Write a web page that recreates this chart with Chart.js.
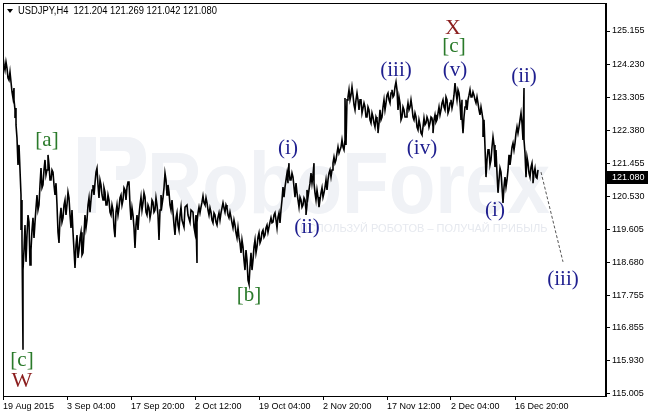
<!DOCTYPE html>
<html>
<head>
<meta charset="utf-8">
<script src="https://cdn.jsdelivr.net/npm/chart.js@4.4.0/dist/chart.umd.min.js"></script>
<style>
  html, body { margin: 0; padding: 0; background: #fff; }
  #wrap { width: 648px; height: 415px; position: relative; }
</style>
</head>
<body>
<div id="wrap"><canvas id="priceChart" width="648" height="415"></canvas></div>
<script>
// USDJPY H4 (bar index = H4 bar from 19 Aug 2015)
const symbolTitle = 'USDJPY,H4  121.204 121.269 121.042 121.080';
const lastClose = 121.080;

const bars = [
  0, 2, 4, 6, 8, 10, 11, 12, 13, 15,
  17, 18, 19, 20, 22, 24, 26, 28, 30, 32,
  34, 36, 38, 40, 42, 44, 46, 48, 50, 52,
  54, 56, 58, 60, 62, 64, 66, 68, 70, 72,
  74, 76, 78, 80, 82, 84, 86, 88, 90, 92,
  94, 96, 98, 100, 102, 104, 106, 108, 110, 112,
  114, 116, 118, 120, 122, 124, 126, 128, 130, 132,
  134, 136, 138, 140, 142, 144, 146, 148, 150, 152,
  154, 156, 158, 160, 162, 164, 166, 168, 170, 172,
  174, 176, 178, 181, 184, 187, 190, 192, 193, 194,
  196, 198, 200, 202, 204, 206, 208, 210, 212, 214,
  216, 218, 220, 222, 224, 226, 228, 230, 232, 234,
  236, 238, 240, 242, 244, 246, 248, 250, 252, 254,
  256, 258, 260, 262, 264, 266, 268, 270, 272, 274,
  276, 278, 280, 282, 284, 285, 286, 288, 290, 292,
  294, 296, 298, 300, 302, 303, 304, 306, 308, 310,
  311, 313, 315, 317, 319, 321, 323, 325, 327, 329,
  331, 333, 335, 337, 339, 341, 342, 344, 346, 348,
  350, 352, 354, 356, 358, 360, 362, 364, 366, 368,
  370, 372, 374, 375, 377, 379, 381, 383, 385, 387,
  389, 391, 393, 395, 397, 399, 401, 403, 405, 407,
  409, 411, 413, 415, 417, 419, 421, 423, 425, 427,
  429, 430, 432, 434, 436, 438, 440, 442, 444, 446,
  448, 450, 452, 454, 456, 458, 459, 461, 463, 465,
  467, 469, 471, 473, 475, 477, 479, 480, 482, 484,
  486, 488, 490, 492, 494, 496, 498, 500, 502, 504,
  506, 508, 510, 512, 514, 516, 518, 520, 521, 523,
  525, 527, 529, 530, 532, 534
];
const highs = [
  124.43, 124.29, 124.12, 124.01, 123.73, 123.56, 123.23, 123.00, 122.53, 121.97,
  121.27, 120.43, 119.31, 119.03, 119.73, 120.01, 119.81, 119.59, 119.93, 120.21,
  120.57, 120.85, 121.32, 121.27, 121.55, 121.69, 121.41, 121.27, 121.21, 120.90,
  120.29, 119.93, 120.21, 120.29, 120.43, 120.65, 120.49, 120.15, 119.53, 119.17,
  119.45, 119.37, 119.53, 119.45, 120.01, 120.29, 120.49, 120.71, 120.85, 121.21,
  121.32, 120.99, 120.85, 120.77, 120.65, 120.57, 120.43, 120.29, 120.15, 120.09,
  120.29, 120.49, 120.57, 120.77, 120.71, 120.93, 120.93, 120.21, 120.01, 119.73,
  120.01, 120.29, 120.51, 120.63, 120.51, 120.29, 120.21, 120.43, 120.37, 120.49,
  120.29, 120.15, 120.57, 120.77, 121.18, 120.85, 120.65, 120.43, 120.09, 119.93,
  120.07, 120.01, 120.23, 120.23, 120.29, 120.15, 120.09, 120.01, 119.87, 120.07,
  120.23, 120.37, 120.54, 120.49, 120.35, 120.21, 120.09, 120.07, 120.01, 119.95,
  120.07, 120.21, 120.35, 120.29, 120.21, 120.09, 119.95, 119.87, 119.73, 119.65,
  119.39, 119.31, 119.12, 119.03, 118.75, 118.56, 118.95, 119.12, 119.31, 119.39,
  119.51, 119.53, 119.59, 119.65, 119.73, 119.81, 119.93, 120.01, 120.07, 119.95,
  120.07, 120.43, 120.79, 120.99, 121.18, 121.46, 121.27, 121.18, 121.07, 120.90,
  120.63, 120.51, 120.43, 120.49, 120.43, 120.29, 120.71, 120.90, 121.18, 121.46,
  120.90, 120.71, 120.51, 120.63, 120.77, 120.79, 120.99, 121.18, 121.27, 121.46,
  121.63, 121.74, 121.91, 121.91, 122.11, 122.11, 123.28, 123.31, 123.51, 123.59,
  123.36, 123.23, 123.42, 123.23, 123.23, 123.14, 123.03, 123.03, 122.95, 122.86,
  122.75, 122.75, 122.67, 122.58, 122.95, 123.03, 123.23, 123.36, 123.42, 123.42,
  123.51, 123.59, 123.73, 123.31, 123.14, 123.03, 122.95, 122.95, 123.14, 123.23,
  123.03, 122.86, 122.75, 122.67, 122.53, 122.47, 122.72, 122.75, 122.67, 122.75,
  122.72, 122.67, 122.81, 122.86, 123.03, 123.14, 123.23, 123.31, 123.23, 123.14,
  123.23, 123.36, 123.70, 123.51, 123.42, 123.23, 122.75, 123.03, 123.23, 123.36,
  123.51, 123.45, 123.36, 123.31, 123.14, 123.03, 122.86, 122.67, 121.91, 121.83,
  121.83, 121.91, 122.19, 121.83, 121.18, 121.32, 121.21, 120.79, 121.07, 121.27,
  121.69, 121.91, 122.02, 122.30, 122.47, 122.67, 122.86, 123.56, 122.11, 121.63,
  121.46, 121.35, 121.46, 121.18, 121.32, 121.27
];
const lows = [
  124.20, 124.06, 123.84, 123.78, 123.45, 123.28, 122.95, 122.72, 122.16, 121.41,
  120.57, 119.59, 116.24, 118.47, 118.70, 119.45, 118.61, 119.03, 119.37, 119.81,
  120.15, 120.29, 120.77, 120.85, 121.13, 121.27, 120.99, 120.99, 120.85, 120.57,
  119.53, 119.23, 119.81, 119.93, 120.01, 120.29, 120.01, 119.65, 119.03, 118.53,
  118.81, 119.03, 118.89, 118.95, 119.65, 119.87, 120.09, 120.43, 120.57, 120.90,
  120.85, 120.49, 120.57, 120.43, 120.29, 120.29, 120.09, 120.01, 119.65, 119.39,
  120.01, 120.21, 120.29, 120.43, 120.43, 120.79, 120.29, 119.87, 119.65, 119.09,
  119.59, 120.01, 120.15, 120.35, 120.09, 120.01, 119.93, 120.09, 120.09, 120.15,
  120.01, 119.31, 120.29, 120.49, 120.99, 120.57, 120.29, 120.15, 119.73, 119.45,
  119.73, 119.59, 119.87, 119.67, 120.01, 119.81, 119.67, 119.51, 118.67, 119.81,
  120.07, 120.23, 120.35, 120.29, 120.15, 120.01, 119.87, 119.79, 119.81, 119.73,
  119.87, 120.07, 120.21, 120.09, 120.01, 119.93, 119.79, 119.65, 119.51, 119.37,
  119.23, 118.95, 118.75, 118.47, 118.19, 118.08, 118.47, 118.75, 118.95, 119.12,
  119.23, 119.31, 119.39, 119.45, 119.53, 119.67, 119.79, 119.81, 119.87, 119.65,
  119.79, 120.15, 120.51, 120.79, 120.90, 121.13, 120.99, 120.99, 120.79, 120.51,
  120.43, 120.23, 120.23, 120.29, 120.15, 120.01, 120.51, 120.71, 120.90, 121.13,
  120.63, 120.43, 120.23, 120.43, 120.51, 120.63, 120.71, 120.99, 121.07, 121.27,
  121.46, 121.55, 121.74, 121.83, 121.91, 121.83, 121.97, 123.23, 123.23, 123.36,
  123.09, 122.95, 123.23, 122.95, 122.86, 122.86, 122.75, 122.75, 122.67, 122.58,
  122.58, 122.47, 122.39, 122.30, 122.67, 122.75, 122.95, 123.14, 123.23, 123.14,
  123.31, 123.36, 123.51, 122.95, 122.67, 122.75, 122.75, 122.75, 122.95, 123.03,
  122.75, 122.67, 122.47, 122.39, 122.30, 122.25, 122.53, 122.58, 122.47, 122.58,
  122.47, 122.30, 122.61, 122.67, 122.81, 122.95, 123.03, 122.95, 122.86, 122.95,
  123.00, 123.14, 123.45, 123.23, 123.14, 122.67, 122.30, 122.75, 122.95, 123.23,
  123.31, 123.31, 123.23, 123.14, 122.95, 122.81, 122.67, 122.19, 121.07, 121.55,
  121.41, 121.55, 121.97, 121.35, 120.63, 120.99, 120.79, 120.35, 120.79, 120.99,
  121.41, 121.63, 121.83, 122.02, 122.30, 122.47, 122.58, 122.11, 121.74, 121.07,
  121.18, 121.07, 121.13, 120.90, 121.07, 121.04
];

// dashed projection towards wave (iii)
const forecastBars = [538, 560];
const forecastPrices = [121.21, 118.70];

const dateTicks = [0, 64, 128, 192, 256, 320, 384, 448, 512];
const dateLabels = ['19 Aug 2015', '3 Sep 04:00', '17 Sep 20:00', '2 Oct 12:00', '19 Oct 04:00',
  '2 Nov 20:00', '17 Nov 12:00', '2 Dec 04:00', '16 Dec 20:00'];
const priceTicks = [125.155, 124.230, 123.305, 122.380, 121.455, 120.530, 119.605,
  118.680, 117.755, 116.855, 115.930, 115.005];

// wave marks, anchored at (bar, price)
const waveLabels = [
  { text: '[a]', bar: 44, price: 122.08, tone: 'green' },
  { text: '[c]', bar: 19, price: 115.93, tone: 'green' },
  { text: 'W', bar: 19, price: 115.37, tone: 'red' },
  { text: '[b]', bar: 246, price: 117.75, tone: 'green' },
  { text: '(i)', bar: 285, price: 121.86, tone: 'blue' },
  { text: '(ii)', bar: 304, price: 119.65, tone: 'blue' },
  { text: '(iii)', bar: 393, price: 124.04, tone: 'blue' },
  { text: '(iv)', bar: 419, price: 121.88, tone: 'blue' },
  { text: '(v)', bar: 452, price: 124.04, tone: 'blue' },
  { text: '[c]', bar: 451, price: 124.71, tone: 'green' },
  { text: 'X', bar: 450, price: 125.24, tone: 'red' },
  { text: '(ii)', bar: 521, price: 123.87, tone: 'blue' },
  { text: '(i)', bar: 492, price: 120.15, tone: 'blue' },
  { text: '(iii)', bar: 560, price: 118.22, tone: 'blue' }
];
const toneColors = { blue: '#1f1f8f', green: '#2a7a2a', red: '#8b1e1e' };

// zigzag through each bar's high and low so it reads like an OHLC strip
const priceLine = [];
bars.forEach((b, i) => {
  const first = i % 2 ? lows[i] : highs[i];
  const second = i % 2 ? highs[i] : lows[i];
  priceLine.push({ x: b, y: first });
  priceLine.push({ x: b + 1, y: second });
});
const forecastLine = forecastBars.map((b, i) => ({ x: b, y: forecastPrices[i] }));

const watermark = {
  id: 'watermark',
  beforeDatasetsDraw(chart) {
    const ctx = chart.ctx;
    ctx.save();
    ctx.fillStyle = '#f0f2f6';
    // logo block
    ctx.fillRect(78, 137, 18, 76);
    ctx.beginPath();
    ctx.moveTo(100, 137);
    ctx.lineTo(126, 137);
    ctx.quadraticCurveTo(146, 137, 146, 158);
    ctx.quadraticCurveTo(146, 180, 126, 180);
    ctx.lineTo(116, 180);
    ctx.lineTo(116, 166);
    ctx.lineTo(124, 166);
    ctx.quadraticCurveTo(130, 166, 130, 158);
    ctx.quadraticCurveTo(130, 151, 124, 151);
    ctx.lineTo(100, 151);
    ctx.closePath();
    ctx.fill();
    ctx.font = 'bold 88px "Liberation Sans"';
    ctx.textBaseline = 'alphabetic';
    ctx.fillText('RoboForex', 147, 213, 403);
    ctx.fillStyle = '#e6e9ef';
    ctx.font = '11px "Liberation Sans"';
    ctx.textBaseline = 'middle';
    ctx.fillText('ИСПОЛЬЗУЙ РОБОТОВ – ПОЛУЧАЙ ПРИБЫЛЬ', 300, 229, 253);
    ctx.restore();
  }
};

const overlay = {
  id: 'overlay',
  afterDraw(chart) {
    const ctx = chart.ctx;
    const area = chart.chartArea;
    const xs = chart.scales.x;
    const ys = chart.scales.y;
    ctx.save();

    // frame
    ctx.strokeStyle = '#000';
    ctx.lineWidth = 1;
    ctx.strokeRect(area.left + 0.5, area.top + 0.5, area.right - area.left - 1, area.bottom - area.top);

    // wave labels
    ctx.textAlign = 'center';
    ctx.textBaseline = 'middle';
    waveLabels.forEach(l => {
      ctx.font = (l.tone === 'red' ? '22px' : '21px') + ' "Liberation Serif"';
      ctx.fillStyle = toneColors[l.tone];
      ctx.fillText(l.text, xs.getPixelForValue(l.bar), ys.getPixelForValue(l.price));
    });

    // title
    ctx.fillStyle = '#000';
    ctx.beginPath();
    ctx.moveTo(7, 9);
    ctx.lineTo(13, 9);
    ctx.lineTo(10, 13);
    ctx.closePath();
    ctx.fill();
    ctx.textAlign = 'left';
    ctx.font = '10px "Liberation Sans"';
    ctx.fillText(symbolTitle, 18, 11, 199);

    // last price tag
    const py = Math.round(ys.getPixelForValue(lastClose));
    ctx.fillRect(area.right + 1, py - 6, 41, 13);
    ctx.fillStyle = '#fff';
    ctx.font = '9px "Liberation Sans"';
    ctx.fillText(lastClose.toFixed(3), area.right + 6, py + 0.5);
    ctx.restore();
  }
};

new Chart(document.getElementById('priceChart'), {
  type: 'line',
  data: {
    datasets: [
      {
        data: priceLine,
        borderColor: '#000',
        borderWidth: 1.6,
        pointRadius: 0,
        tension: 0
      },
      {
        data: forecastLine,
        borderColor: '#555',
        borderWidth: 1,
        borderDash: [3, 2],
        pointRadius: 0
      }
    ]
  },
  options: {
    responsive: false,
    animation: false,
    devicePixelRatio: 1,
    events: [],
    layout: { padding: { left: 3, top: 3, right: 0, bottom: 0 } },
    plugins: { legend: { display: false }, tooltip: { enabled: false } },
    scales: {
      x: {
        type: 'linear',
        min: 0,
        max: 603,
        grid: { drawOnChartArea: false, drawTicks: true, tickLength: 4, color: '#000' },
        border: { display: true, color: '#000' },
        ticks: {
          autoSkip: false,
          maxRotation: 0,
          align: 'start',
          padding: 1,
          color: '#000',
          font: { family: 'Liberation Sans', size: 9 },
          callback: (v) => dateLabels[dateTicks.indexOf(v)] || ''
        },
        afterBuildTicks: (s) => { s.ticks = dateTicks.map(v => ({ value: v })); },
        afterFit: (s) => { s.height = 19; s.paddingLeft = 0; s.paddingRight = 0; }
      },
      y: {
        position: 'right',
        min: 114.949,
        max: 125.938,
        grid: { drawOnChartArea: false, drawTicks: true, tickLength: 4, color: '#000' },
        border: { display: true, color: '#000' },
        ticks: {
          padding: 2,
          color: '#000',
          font: { family: 'Liberation Sans', size: 9 },
          callback: (v) => v.toFixed(3)
        },
        afterBuildTicks: (s) => { s.ticks = priceTicks.map(v => ({ value: v })); },
        afterFit: (s) => { s.width = 42; s.paddingTop = 0; s.paddingBottom = 0; }
      }
    }
  },
  plugins: [watermark, overlay]
});
</script>
</body>
</html>
